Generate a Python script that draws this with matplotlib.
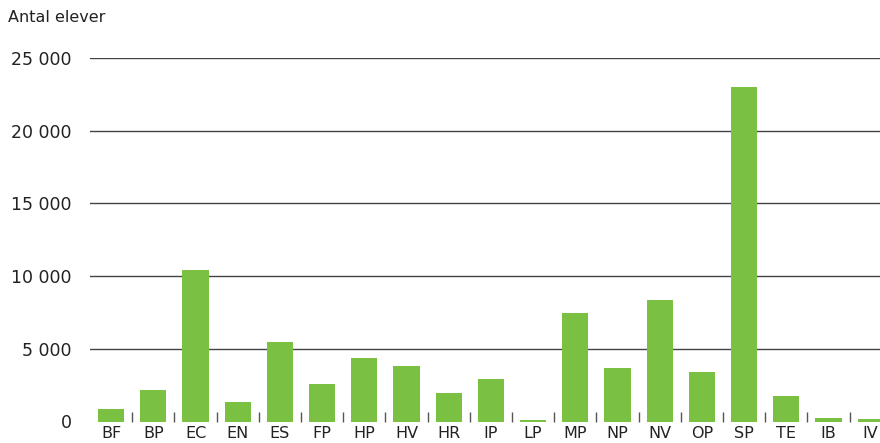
import matplotlib
matplotlib.use("Agg")
import matplotlib.pyplot as plt
import numpy as np

categories = ["BF", "BP", "EC", "EN", "ES", "FP", "HP", "HV", "HR", "IP",
              "LP", "MP", "NP", "NV", "OP", "SP", "TE", "IB", "IV"]
values = [850, 2150, 10400, 1320, 5450, 2550, 4350, 3800, 1950, 2900,
          90, 7480, 3700, 8380, 3420, 22980, 1750, 210, 140]
yticks = [0, 5000, 10000, 15000, 20000, 25000]
ytick_labels = ["0", "5 000", "10 000", "15 000", "20 000", "25 000"]
ylabel = "Antal elever"

plt.rcParams['font.family'] = ['DejaVu Sans']

fig = plt.figure(figsize=(8.8, 4.43), dpi=100)
ax = fig.add_axes([90/880, 1 - 421.5/443, 1 - 90/880, 363.5/443])

x = np.arange(len(categories))
ax.bar(x, values, width=0.62, color="#7AC143", zorder=3)

ax.set_ylim(0, 25000)
ax.set_xlim(-0.5, 18.22)
ax.set_yticks(yticks)
ax.set_yticklabels(ytick_labels)
for y in yticks[1:]:
    ax.axhline(y, color="#444444", linewidth=1.0, zorder=1)

ax.set_xticks(x)
ax.set_xticklabels(categories)
ax.set_xticks(np.arange(0.5, len(categories) - 1, 1.0), minor=True)
ax.tick_params(axis='x', which='major', length=0, pad=3, labelsize=11.5, colors="#222222")
ax.tick_params(axis='x', which='minor', length=7, width=1.0, direction='in', color="#555555")
ax.tick_params(axis='y', length=0, pad=13, labelsize=12.5, colors="#222222")
for s in ax.spines.values():
    s.set_visible(False)

fig.text(8/880, 1 - 17/443, ylabel, fontsize=11.5, color="#222222", ha='left', va='center')

fig.savefig("out.png", dpi=100)
